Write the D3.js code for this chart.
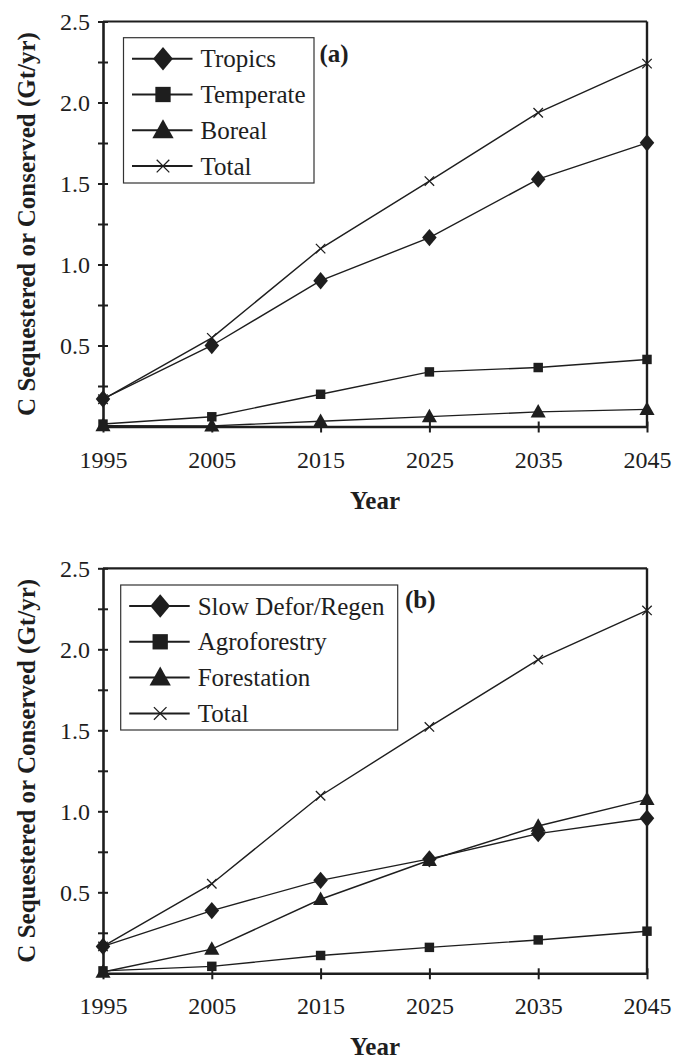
<!DOCTYPE html>
<html>
<head>
<meta charset="utf-8">
<script src="https://cdn.jsdelivr.net/npm/d3@7"></script>
<style>
  html, body { margin: 0; padding: 0; background: #fff; }
  svg { display: block; }
  text { font-family: "Liberation Serif", "Times New Roman", serif; fill: #1e1e1e; }
</style>
</head>
<body>
<svg id="chart" width="674" height="1061"></svg>
<script>
// ---- Data ----
const years = [1995, 2005, 2015, 2025, 2035, 2045];
const yTickValues = [0.25, 0.5, 0.75, 1.0, 1.25, 1.5, 1.75, 2.0, 2.25, 2.5];
const yTickLabels = ["", "0.5", "", "1.0", "", "1.5", "", "2.0", "", "2.5"];

// Panel (a)
const tropics   = [0.17, 0.50, 0.90, 1.166, 1.527, 1.751];
const temperate = [0.015, 0.06, 0.199, 0.337, 0.364, 0.414];
const boreal    = [0.005, 0.004, 0.032, 0.061, 0.09, 0.106];
const totalA    = [0.168, 0.547, 1.098, 1.515, 1.937, 2.24];
const namesA    = ["Tropics", "Temperate", "Boreal", "Total"];

// Panel (b)
const slowDefor    = [0.166, 0.387, 0.574, 0.706, 0.862, 0.957];
const agroforestry = [0.015, 0.043, 0.11, 0.16, 0.206, 0.26];
const forestation  = [0.008, 0.149, 0.457, 0.698, 0.909, 1.074];
const totalB       = [0.166, 0.553, 1.096, 1.521, 1.936, 2.24];
const namesB       = ["Slow Defor/Regen", "Agroforestry", "Forestation", "Total"];

const markerKinds = ["diamond", "square", "triangle", "cross"];

// ---- Drawing ----
const svg = d3.select("#chart");
const INK = "#1e1e1e";

function drawMarker(g, kind, cx, cy, s) {
  if (kind === "diamond") {
    g.append("path").attr("d", `M${cx},${cy - s * 0.62}L${cx + s * 0.52},${cy}L${cx},${cy + s * 0.62}L${cx - s * 0.52},${cy}Z`).attr("fill", INK);
  } else if (kind === "square") {
    g.append("rect").attr("x", cx - s * 0.45).attr("y", cy - s * 0.45).attr("width", s * 0.9).attr("height", s * 0.9).attr("fill", INK);
  } else if (kind === "triangle") {
    g.append("path").attr("d", `M${cx},${cy - s * 0.58}L${cx + s * 0.56},${cy + s * 0.42}L${cx - s * 0.56},${cy + s * 0.42}Z`).attr("fill", INK);
  } else {
    const h = s * 0.45;
    g.append("path").attr("d", `M${cx - h},${cy - h}L${cx + h},${cy + h}M${cx - h},${cy + h}L${cx + h},${cy - h}`).attr("stroke", INK).attr("stroke-width", 1.3).attr("fill", "none");
  }
}

function panel(offsetY, seriesList, names, tag, legendBox, tagPos) {
  const x = d3.scaleLinear().domain([1995, 2045]).range([103, 647]);
  const y = d3.scaleLinear().domain([0, 2.5]).range([426.5 + offsetY, 21.5 + offsetY]);
  const g = svg.append("g");

  // frame top and right
  g.append("line").attr("x1", x(1995)).attr("x2", x(2045)).attr("y1", y(2.5)).attr("y2", y(2.5)).attr("stroke", INK).attr("stroke-width", 2.2);
  g.append("line").attr("x1", x(2045)).attr("x2", x(2045)).attr("y1", y(2.5)).attr("y2", y(0)).attr("stroke", INK).attr("stroke-width", 2.4);

  // y axis
  const ya = g.append("g").attr("transform", `translate(${x(1995)},0)`)
    .call(d3.axisLeft(y).tickValues(yTickValues).tickFormat((d, i) => yTickLabels[i]).tickSizeOuter(0).tickSizeInner(5).tickPadding(8));
  ya.select(".domain").attr("stroke", INK).attr("stroke-width", 2.6);
  ya.selectAll(".tick line").attr("x1", -5).attr("x2", 5).attr("stroke", INK).attr("stroke-width", 2);
  ya.selectAll(".tick text").attr("font-size", 24).attr("font-family", "Liberation Serif").attr("fill", INK).attr("dy", "0.34em");

  // x axis
  const xa = g.append("g").attr("transform", `translate(0,${y(0)})`)
    .call(d3.axisBottom(x).tickValues(years).tickFormat(d3.format("d")).tickSizeOuter(0).tickSizeInner(6).tickPadding(18));
  xa.select(".domain").attr("stroke", INK).attr("stroke-width", 2.6);
  xa.selectAll(".tick line").attr("y1", -5).attr("y2", 6).attr("stroke", INK).attr("stroke-width", 2);
  xa.selectAll(".tick text").attr("font-size", 24).attr("font-family", "Liberation Serif").attr("fill", INK);

  // series
  const line = d3.line().x((d, i) => x(years[i])).y(d => y(d));
  seriesList.forEach((vals, si) => {
    g.append("path").datum(vals).attr("d", line).attr("fill", "none").attr("stroke", INK).attr("stroke-width", 1.4);
  });
  seriesList.forEach((vals, si) => {
    vals.forEach((v, i) => drawMarker(g, markerKinds[si], x(years[i]), y(v), si === 0 ? 14 : (si === 1 ? 10.5 : (si === 2 ? 13.5 : 10.5))));
  });

  // legend
  const lg = g.append("g");
  lg.append("rect").attr("x", legendBox.x).attr("y", legendBox.y + offsetY).attr("width", legendBox.w).attr("height", legendBox.h)
    .attr("fill", "#fff").attr("stroke", "#333").attr("stroke-width", 1.2);
  names.forEach((n, i) => {
    const cy = legendBox.y + offsetY + 21 + i * 35.8;
    lg.append("line").attr("x1", legendBox.x + 8.5).attr("x2", legendBox.x + 69).attr("y1", cy).attr("y2", cy).attr("stroke", INK).attr("stroke-width", 2);
    drawMarker(lg, markerKinds[i], legendBox.x + 39.5, cy, i === 1 ? 17 : (i === 3 ? 14 : 19));
    lg.append("text").attr("x", legendBox.x + 77).attr("y", cy + 8.5).attr("font-size", 25).text(n);
  });

  // panel tag
  g.append("text").attr("x", tagPos.x).attr("y", tagPos.y + offsetY).attr("font-size", 25).attr("font-weight", "bold").text(tag);

  // axis titles
  g.append("text").attr("x", (x(1995) + x(2045)) / 2).attr("y", 508.5 + offsetY).attr("text-anchor", "middle")
    .attr("font-size", 25).attr("font-weight", "bold").text("Year");
  g.append("text").attr("transform", `translate(35,${(y(0) + y(2.5)) / 2}) rotate(-90)`).attr("text-anchor", "middle")
    .attr("font-size", 25).attr("font-weight", "bold").text("C Sequestered or Conserved (Gt/yr)");
}

panel(0, [tropics, temperate, boreal, totalA], namesA, "(a)",
  { x: 123.5, y: 37.7, w: 190.5, h: 145.3 }, { x: 319.5, y: 61.5 });
panel(546.8, [slowDefor, agroforestry, forestation, totalB], namesB, "(b)",
  { x: 120.7, y: 38.2, w: 277, h: 145 }, { x: 405, y: 61.5 });
</script>
</body>
</html>
